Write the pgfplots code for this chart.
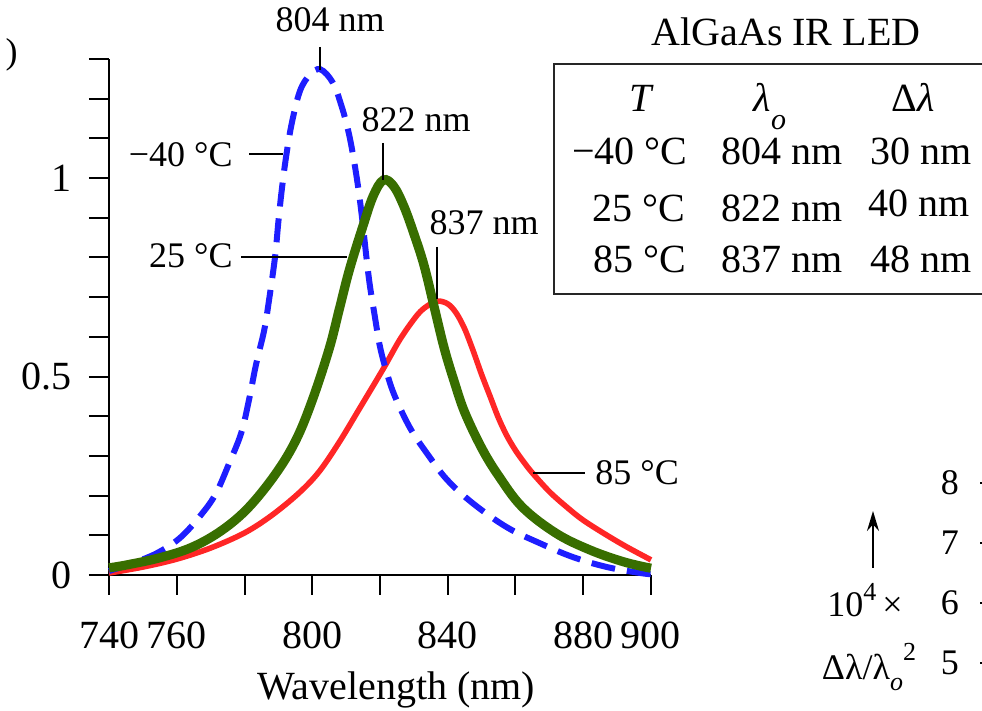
\documentclass[border=0pt]{standalone}
\usepackage{fontspec}
\setmainfont{Liberation Serif}
\usepackage{pgfplots}
\pgfplotsset{compat=1.18}
\usetikzlibrary{arrows.meta}
\definecolor{cblue}{RGB}{30,30,255}
\definecolor{cgreen}{RGB}{56,110,0}
\definecolor{cred}{RGB}{255,38,38}
\newcommand\fsA{\fontsize{18}{21}\selectfont}
\newcommand\fsB{\fontsize{20}{24}\selectfont}
\newcommand\fsS{\fontsize{13}{15}\selectfont}
\begin{document}
\begin{tikzpicture}
\path[use as bounding box] (0,0) rectangle (491pt,355.5pt);
\clip (0,0) rectangle (491pt,355.5pt);
\begin{axis}[
  at={(54.5pt,68pt)}, anchor=south west,
  width=271pt, height=258pt, scale only axis,
  xmin=740, xmax=900, ymin=0, ymax=1.3,
  axis lines*=left,
  axis line style={line width=1pt},
  every tick/.style={line width=1pt, black},
  tick align=outside,
  major tick length=10pt,
  xtick={740,760,780,800,820,840,860,880,900},
  xticklabels={740,760,,800,,840,,880,900},
  ytick={0,0.1,0.2,0.3,0.4,0.5,0.6,0.7,0.8,0.9,1,1.1,1.2,1.3},
  yticklabels={0,,,,,0.5,,,,,1,,,},
  xticklabel style={font=\fsB, yshift=-10pt},
  yticklabel style={font=\fsB, xshift=-5pt},
  xlabel={Wavelength (nm)},
  xlabel style={font=\fsB, at={(rel axis cs:0.5295,0)}, anchor=base, yshift=-62.5pt},
  clip=false,
  /pgf/number format/assume math mode=true,
]
\addplot[cred, line width=2.8pt, smooth, tension=0.55] coordinates {
(740,0.005) (750,0.02) (760,0.04) (770,0.068) (780,0.106) (788,0.15)
(796,0.206) (802,0.26) (808,0.335) (814,0.42) (821,0.52) (826,0.595)
(831,0.655) (834,0.678) (837,0.69) (840,0.683) (842.5,0.66) (845,0.62)
(847.5,0.565) (850,0.505) (852.5,0.45) (855,0.395) (857.5,0.35) (860,0.314)
(862.5,0.284) (865,0.257) (870,0.21) (875,0.172) (880,0.138) (887,0.1)
(893,0.07) (900,0.038)};
\addplot[cblue, line width=3pt, smooth, tension=0.6, dash pattern=on 12pt off 6pt] coordinates {
(740,0.010) (748,0.033) (754.8,0.058) (761.3,0.096) (767.5,0.155) (771.6,0.206)
(775.4,0.28) (779,0.357) (781.3,0.44) (783.4,0.53) (785.8,0.616) (787.2,0.69)
(789,0.80) (790,0.89) (791,0.97) (792.3,1.055) (794,1.14) (796.4,1.22) (799.3,1.26)
(802.4,1.274) (806.1,1.24) (808.7,1.18) (810.6,1.12) (812,1.06) (813.5,0.98)
(814.7,0.90) (816,0.80) (817,0.73) (818.5,0.65) (820,0.575) (822,0.51) (824.4,0.45)
(828.9,0.37) (833.9,0.306) (839.8,0.24) (847.5,0.18) (857.5,0.12) (867.2,0.08)
(877,0.045) (887,0.02) (896.8,0.005) (900,0.002)};
\addplot[cgreen, line width=4.6pt, smooth, tension=0.6] coordinates {
(740,0.018) (745,0.025) (754.8,0.043) (764.5,0.07) (773.4,0.113) (781.3,0.171)
(789.3,0.256) (795.2,0.34) (800,0.44) (805,0.57) (808,0.67) (811,0.77) (815,0.88)
(818,0.955) (821,0.995) (824,0.98) (827,0.93) (830,0.86) (833,0.78) (836,0.675)
(839,0.57) (842,0.485) (845,0.41) (850,0.32) (855,0.25) (862,0.171)
(872,0.105) (882,0.063) (892,0.033) (900,0.017)};
\end{axis}
\begin{axis}[
  at={(500pt,-6pt)}, anchor=south west,
  width=100pt, height=150pt, scale only axis,
  xmin=0, xmax=1, ymin=4, ymax=9,
  axis lines*=left,
  axis line style={line width=1pt},
  every tick/.style={line width=1pt, black},
  tick align=outside, major tick length=10pt,
  xtick=\empty, ytick={5,6,7,8},
  yticklabel style={font=\fsA, xshift=-7pt},
  /pgf/number format/assume math mode=true,
]
\end{axis}
\begin{scope}[x=0.5pt,y=-0.5pt,shift={(0pt,355.5pt)}]
\node[font=\fsA, anchor=base east, inner sep=0pt] at (18,64) {)};
% annotations
\node[font=\fsA, anchor=base, inner sep=0pt] at (330,32) {804 nm};
\draw[line width=0.8pt] (320,47)--(320,70);
\node[font=\fsA, anchor=base, inner sep=0pt] at (416,132) {822 nm};
\draw[line width=0.8pt] (383,143)--(383,180);
\node[font=\fsA, anchor=base, inner sep=0pt] at (484,235) {837 nm};
\draw[line width=0.8pt] (437,247)--(437,299);
\node[font=\fsA, anchor=base east, inner sep=0pt] at (233,167) {−40 °C};
\draw[line width=0.8pt] (249,154)--(283,154);
\node[font=\fsA, anchor=base east, inner sep=0pt] at (233,268) {25 °C};
\draw[line width=0.8pt] (241,257)--(347,257);
\node[font=\fsA, anchor=base west, inner sep=0pt] at (595,485) {85 °C};
\draw[line width=0.8pt] (533,473)--(585,473);
% title and table
\node[font=\fsB, anchor=base, inner sep=0pt] at (786,46) {AlGaAs IR LED};
\draw[line width=1pt, black!85] (554,64) rectangle (1010,294);
\node[font=\fsB, anchor=base, inner sep=0pt] at (642,112) {\textit{T}};
\node[font=\fsB, anchor=base, inner sep=0pt] at (770,112) {\textit{λ}\raisebox{-0.45em}{\fontsize{15}{17}\selectfont\textit{o}}};
\node[font=\fsB, anchor=base, inner sep=0pt] at (913,112) {Δ\textit{λ}};
\node[font=\fsB, anchor=base east, inner sep=0pt] at (688,165) {−40 °C};
\node[font=\fsB, anchor=base, inner sep=0pt] at (782,165) {804 nm};
\node[font=\fsB, anchor=base, inner sep=0pt] at (921,165) {30 nm};
\node[font=\fsB, anchor=base east, inner sep=0pt] at (686,222) {25 °C};
\node[font=\fsB, anchor=base, inner sep=0pt] at (782,222) {822 nm};
\node[font=\fsB, anchor=base, inner sep=0pt] at (919,217) {40 nm};
\node[font=\fsB, anchor=base east, inner sep=0pt] at (687,273) {85 °C};
\node[font=\fsB, anchor=base, inner sep=0pt] at (782,273) {837 nm};
\node[font=\fsB, anchor=base, inner sep=0pt] at (921,273) {48 nm};
% second panel label
\node[font=\fsA, anchor=base, inner sep=0pt] at (865,617) {10\raisebox{0.45em}{\fsS 4}\,×};
\node[font=\fsA, anchor=base, inner sep=0pt] at (869,680) {Δλ/λ\raisebox{-0.3em}{\fsS\textit{o}}\raisebox{0.55em}{\fsS 2}};
\draw[line width=0.9pt, -{Stealth[length=10pt, width=6pt]}] (873,568)--(873,511);
\end{scope}
\end{tikzpicture}
\end{document}
